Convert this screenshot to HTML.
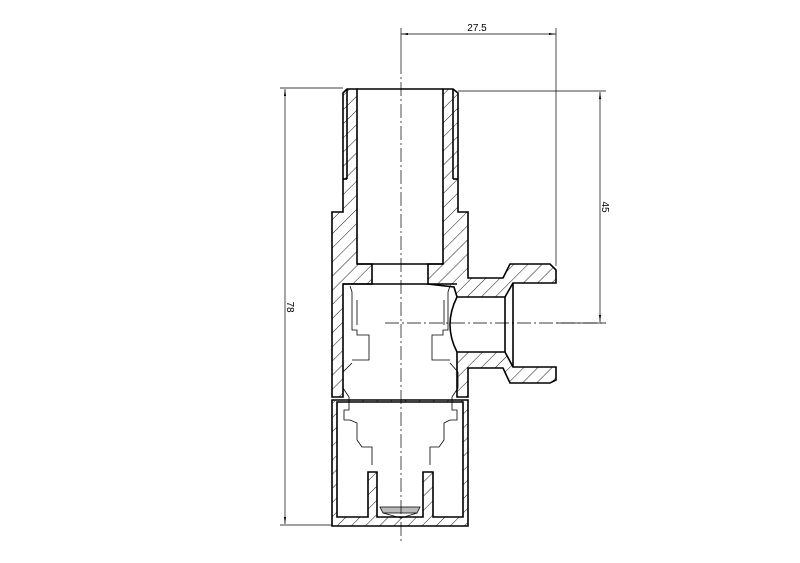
<!DOCTYPE html>
<html><head><style>html,body{margin:0;padding:0;background:#fff}svg{display:block}</style></head><body>
<svg width="800" height="563" viewBox="0 0 800 563" xmlns="http://www.w3.org/2000/svg" font-family="Liberation Sans, sans-serif">
<defs>
<pattern id="h" patternUnits="userSpaceOnUse" width="10" height="10" patternTransform="rotate(45)">
<line x1="0" y1="0" x2="0" y2="10" stroke="#000" stroke-width="0.9"/>
</pattern>
<marker id="a" markerWidth="10" markerHeight="6" refX="10" refY="3" orient="auto-start-reverse"><path d="M0,1.5 L10,3 L0,4.5 Z" fill="#000"/></marker>
</defs>
<g stroke="#000" stroke-width="0.7" fill="none">
<line x1="401" y1="34" x2="556" y2="34" marker-start="url(#a)" marker-end="url(#a)"/>
<line x1="556" y1="28" x2="556" y2="266"/>
<line x1="280" y1="88" x2="343" y2="88"/>
<line x1="280" y1="525" x2="332" y2="525"/>
<line x1="285" y1="89" x2="285" y2="524" marker-start="url(#a)" marker-end="url(#a)"/>
<line x1="458" y1="91" x2="606" y2="91"/>
<line x1="556" y1="323" x2="606" y2="323"/>
<line x1="600" y1="92" x2="600" y2="322" marker-start="url(#a)" marker-end="url(#a)"/>
<line x1="401" y1="28" x2="401" y2="60"/>
</g>
<text x="477" y="31" font-size="10" text-anchor="middle">27.5</text>
<text x="0" y="0" font-size="10" text-anchor="middle" transform="translate(287,307) rotate(90)">78</text>
<text x="0" y="0" font-size="10" text-anchor="middle" transform="translate(602,207) rotate(90)">45</text>
<g fill="url(#h)" stroke="#000" stroke-width="1.6" stroke-linejoin="miter">
<polygon points="347,89 357,89 357,264 372,264 372,284 343,284 343,397 332,397 332,212 343,212 343,93"/>
<polygon points="443,89 453,89 458,93 458,212 468,212 468,278 503,278 510,264 550,264 556,270 556,283 513,283 505,297 457,297 454,287 428,284 428,264 443,264"/>
<polygon points="457,352 505,352 513,367 556,367 556,380 550,383 510,383 503,368 468,368 468,397 457,397"/>
<path fill-rule="evenodd" d="M332,400 H468 V526 H332 Z M337,402 V517 H368 V472 H377 V517 H423 V472 H433 V517 H463 V402 Z"/>
</g>
<g stroke="#000" stroke-width="1.6" fill="none">
<line x1="347" y1="89" x2="347" y2="179"/><line x1="343" y1="179" x2="347" y2="179"/>
<line x1="453" y1="89" x2="453" y2="179"/><line x1="453" y1="179" x2="458" y2="179"/>
<line x1="357" y1="89" x2="443" y2="89"/>
<line x1="357" y1="264" x2="443" y2="264"/>
<line x1="343" y1="284" x2="457" y2="284"/>
<line x1="513" y1="283" x2="513" y2="367"/>
<line x1="505" y1="297" x2="505" y2="352"/>
<path d="M457,297 Q443,325 457,352"/>
</g>
<g stroke="#000" stroke-width="0.8" fill="none">
<polyline points="350,286 352,292 352,330 357,330 357,335 369,335 369,360 352,360"/>
<polyline points="450,286 448,292 448,330 443,330 443,335 432,335 432,360 450,360"/>
<polyline points="352,363 343,372 343,388 349,397 349,410 344,410 344,420 350,420 357,423 357,440 362,447 372,447 372,465"/>
<polyline points="450,363 458,372 458,388 452,397 452,410 457,410 457,420 450,420 444,423 444,440 439,447 430,447 430,465"/>
<polyline points="357,300 357,325"/><polyline points="444,300 444,325"/>
<path d="M380,507 L420,507 L417,513 L383,513 Z" fill="#bbb"/>
<path d="M383,513 L401,518 L417,513"/>
</g>
<g stroke="#000" stroke-width="0.7" stroke-dasharray="14,3,2,3" fill="none">
<line x1="401" y1="60" x2="401" y2="543"/>
<line x1="385" y1="323" x2="606" y2="323"/>
</g>
</svg>
</body></html>
